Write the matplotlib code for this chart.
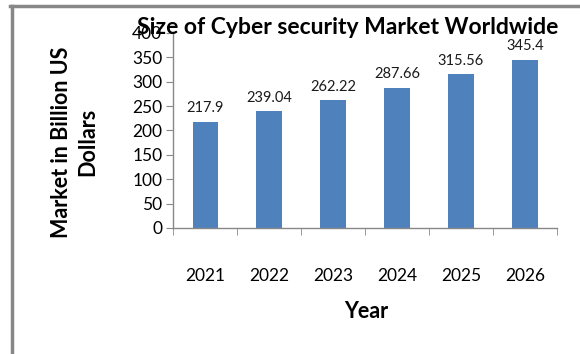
import numpy as np
import matplotlib.pyplot as plt
from matplotlib.lines import Line2D

years = ['2021', '2022', '2023', '2024', '2025', '2026']
market = [217.9, 239.04, 262.22, 287.66, 315.56, 345.4]
value_labels = ['217.9', '239.04', '262.22', '287.66', '315.56', '345.4']

plt.rcParams['font.family'] = ['Lato', 'DejaVu Sans']

fig = plt.figure(figsize=(5.8, 3.54), dpi=100)
ax = fig.add_axes([0.299, 0.356, 0.661, 0.551])

x = np.arange(len(years))
ax.bar(x, market, width=0.4, color='#4F81BD')

for xi, v, lab in zip(x, market, value_labels):
    ax.text(xi, v + 13, lab, ha='center', va='bottom', fontsize=10.5, color='#1a1a1a')

ax.set_xlim(-0.5, len(years) - 0.5)
ax.set_ylim(0, 400)
ax.set_yticks(np.arange(0, 401, 50))
ax.set_xticks(x)
ax.set_xticklabels(years)
ax.set_xticks(np.arange(-0.5, len(years), 1), minor=True)

for s in ['top', 'right']:
    ax.spines[s].set_visible(False)
for s in ['left', 'bottom']:
    ax.spines[s].set_color('#888888')
    ax.spines[s].set_linewidth(1.0)

ax.tick_params(axis='y', length=5, color='#888888', labelsize=12.5, pad=3)
ax.tick_params(axis='x', which='major', length=0, labelsize=12.5, pad=29)
ax.tick_params(axis='x', which='minor', length=5, color='#888888')

fig.text(0.600, 0.922, 'Size of Cyber security Market Worldwide', ha='center',
         va='center', fontsize=16.5, fontweight='bold')
fig.text(0.128, 0.599, 'Market in Billion US\nDollars', ha='center', va='center',
         rotation=90, fontsize=15.5, fontweight='bold', linespacing=1.3)
fig.text(0.631, 0.121, 'Year', ha='center', va='center', fontsize=15.5, fontweight='bold')

# gray frame on left and top
fig.add_artist(Line2D([11.5 / 580, 11.5 / 580], [0, 1 - 6 / 354], transform=fig.transFigure,
                      color='#878787', linewidth=2.5))
fig.add_artist(Line2D([10 / 580, 1], [1 - 6 / 354, 1 - 6 / 354], transform=fig.transFigure,
                      color='#878787', linewidth=2.5))

fig.savefig('out.png', dpi=100)
